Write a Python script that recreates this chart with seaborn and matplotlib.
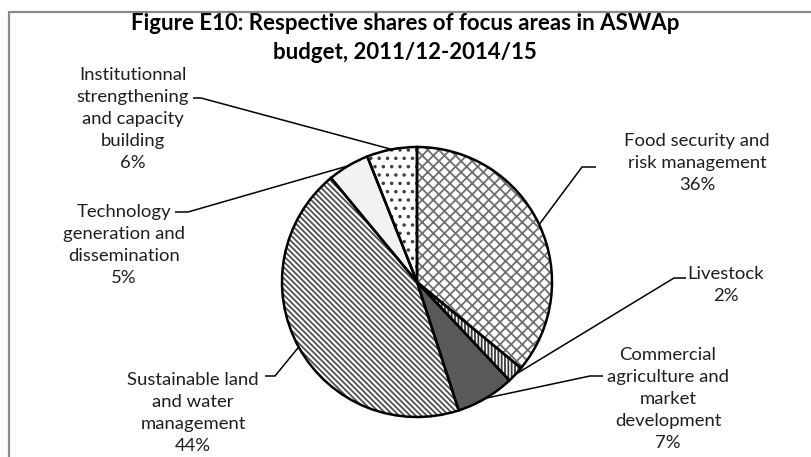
import matplotlib
matplotlib.use("Agg")
import numpy as np
import matplotlib.pyplot as plt
import seaborn as sns

# ---- data -------------------------------------------------------------
categories = [
    "Food security and\nrisk management",
    "Livestock",
    "Commercial\nagriculture and\nmarket\ndevelopment",
    "Sustainable land\nand water\nmanagement",
    "Technology\ngeneration and\ndissemination",
    "Institutionnal\nstrengthening\nand capacity\nbuilding",
]
shares = [36, 2, 7, 44, 5, 6]

title = "Figure E10: Respective shares of focus areas in ASWAp\nbudget, 2011/12-2014/15"

# ---- style ------------------------------------------------------------
sns.set_theme(style="white")
plt.rcParams["font.family"] = ["Lato", "DejaVu Sans"]
plt.rcParams["hatch.linewidth"] = 1.3

fills = ["white", "white", "#595959", "white", "#f2f2f2", "white"]
hatches = ["xxx", "|||||", None, "\\" * 6, None, ".."]
hatch_colors = ["#707070", "#3a3a3a", "#595959", "#505050", "#f2f2f2", "#404040"]

W, H = 811, 457
fig = plt.figure(figsize=(W / 100, H / 100), dpi=100)
ax = fig.add_axes([0, 0, 1, 1])


def py(y):
    """Convert a top-down pixel row into the axes' y coordinate."""
    return H - y


center = (417, py(282))
radius = 135

# hatched fills
wedges, _ = ax.pie(shares, colors=fills, hatch=hatches, startangle=90,
                   counterclock=False, center=center, radius=radius,
                   frame=True, wedgeprops=dict(linewidth=0))
for w, hc in zip(wedges, hatch_colors):
    w.set_edgecolor(hc)
    w.set_linewidth(0)

# outlines on top
ax.pie(shares, colors=["none"] * len(shares), startangle=90,
       counterclock=False, center=center, radius=radius, frame=True,
       wedgeprops=dict(linewidth=1.8, edgecolor="black", facecolor="none"))
ax.set_xlim(0, W)
ax.set_ylim(0, H)
ax.set_aspect("equal")
ax.axis("off")

# ---- labels with leader lines ----------------------------------------
# (text centre x, text centre y, dash start, dash end) in pixel rows
label_layout = [
    (697, 163, (596, 167), (582, 167)),
    (726, 285, (686, 278), (674, 278)),
    (668, 399, (603, 376), (590, 376)),
    (193, 413, (265, 376), (275, 376)),
    (124, 245, (175, 212), (188, 212)),
    (133, 119, (193, 98), (201, 98)),
]

for w, name, share, (tx, ty, d0, d1) in zip(wedges, categories, shares, label_layout):
    ax.text(tx, py(ty), f"{name}\n{share}%", ha="center", va="center",
            fontsize=13.3, color="#1f1f1f", linespacing=1.46)
    mid = np.deg2rad((w.theta1 + w.theta2) / 2)
    ex = center[0] + radius * np.cos(mid)
    ey = center[1] + radius * np.sin(mid)
    ax.plot([d0[0], d1[0], ex], [py(d0[1]), py(d1[1]), ey],
            color="black", linewidth=1.1, solid_capstyle="butt")

# ---- title -----------------------------------------------------------
ax.text(405, py(38), title, ha="center", va="center", fontsize=16,
        fontweight="bold", color="black", linespacing=1.42)

# chart frame (top and left edges visible)
ax.plot([9, 9, W], [0, py(12), py(12)], color="#8a8a8a", linewidth=1.6,
        solid_joinstyle="miter")

fig.savefig("out.png", dpi=100)
